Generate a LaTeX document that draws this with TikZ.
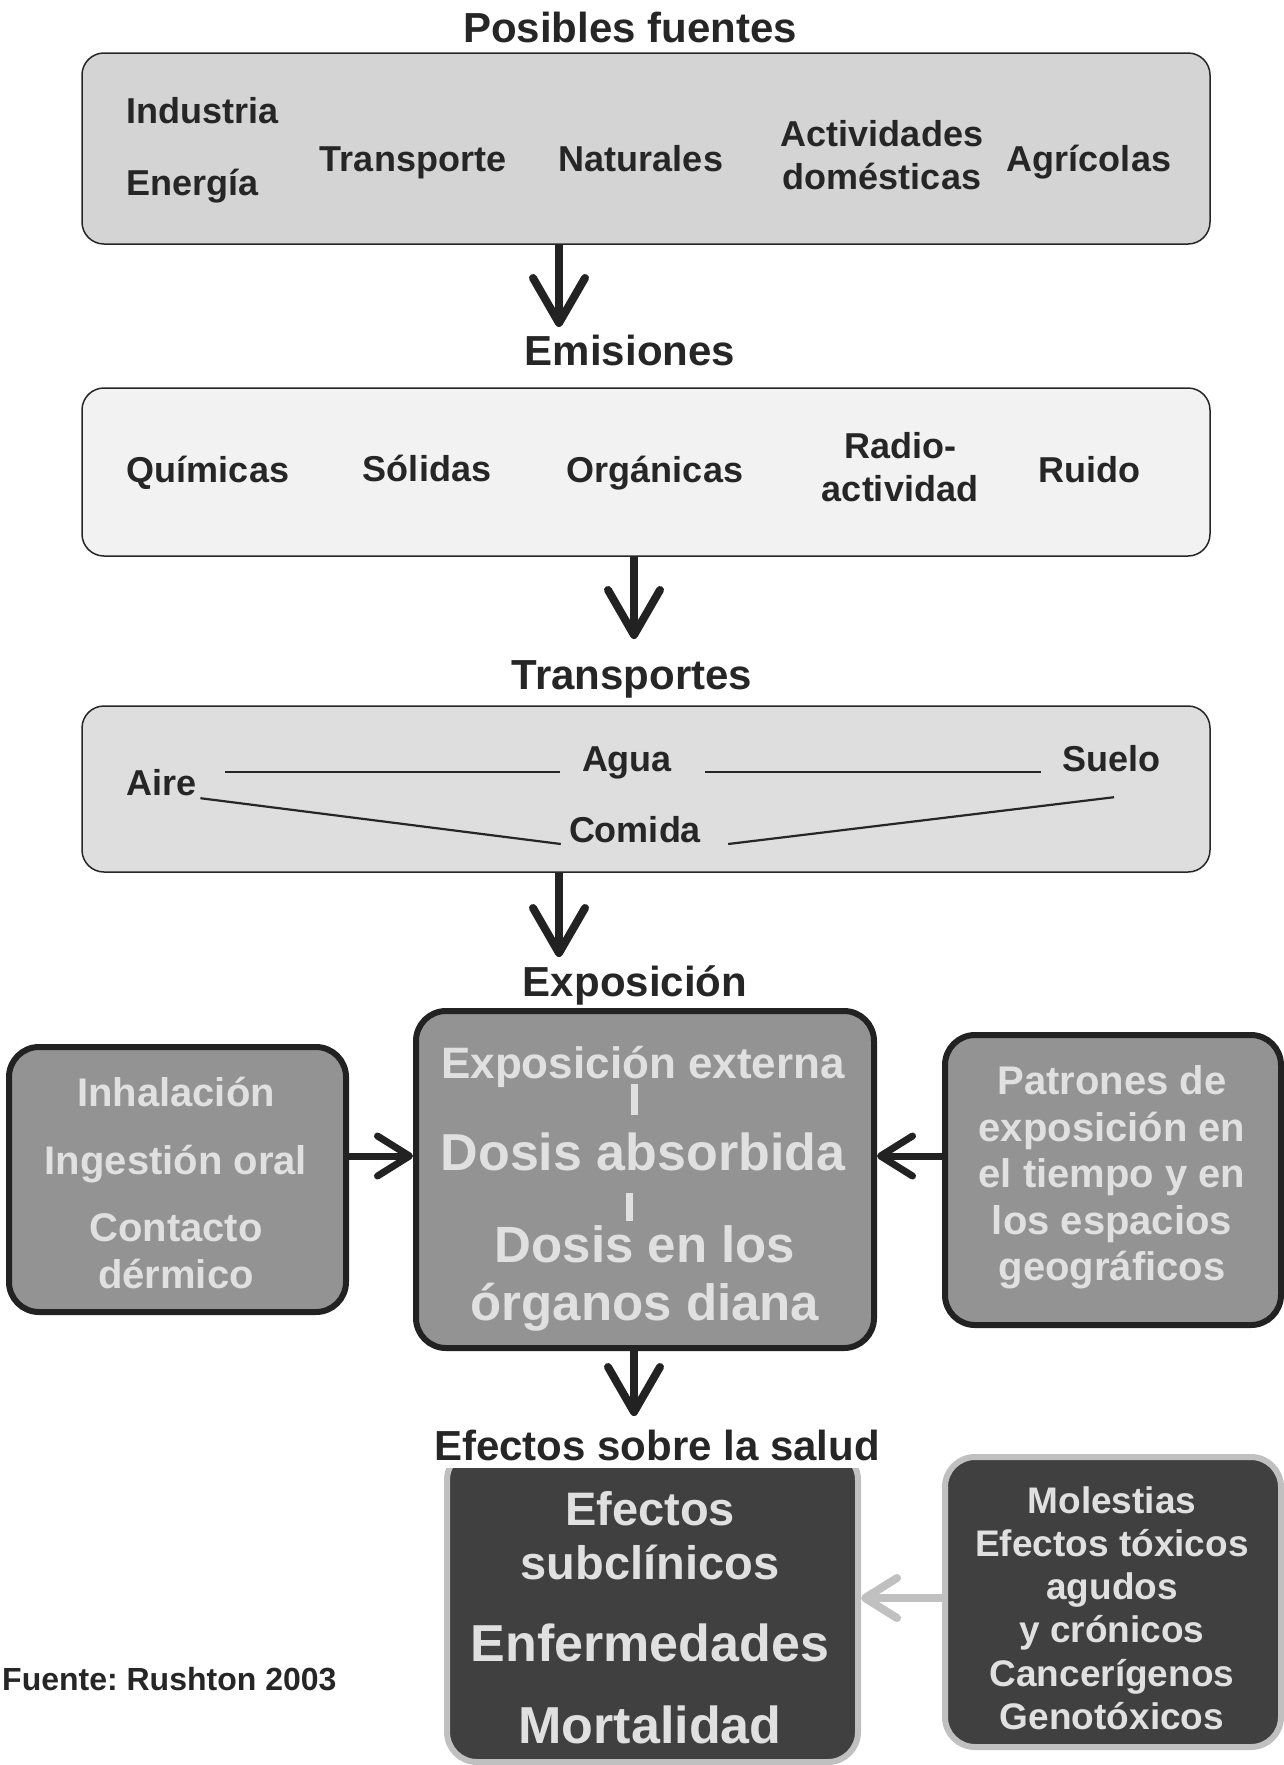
\documentclass[tikz,border=0pt]{standalone}
\usepackage{fontspec}
\setmainfont{Liberation Sans}
\usetikzlibrary{arrows.meta}
\definecolor{tinta}{HTML}{262626}
\definecolor{gris1}{HTML}{D4D4D4}
\definecolor{gris2}{HTML}{F2F2F2}
\definecolor{gris3}{HTML}{DEDEDE}
\definecolor{medio}{HTML}{939393}
\definecolor{oscuro}{HTML}{222222}
\definecolor{fondo}{HTML}{404040}
\definecolor{claro}{HTML}{C0C0C0}
\definecolor{letra}{HTML}{E0E0E0}

\begin{document}
\begin{tikzpicture}[x=1pt,y=-1pt,
  titulo/.style={font=\fontsize{42}{48}\selectfont\bfseries,text=tinta,inner sep=0pt,text height=30pt,text depth=0pt},
  etiq/.style={font=\fontsize{36}{43}\selectfont\bfseries,text=tinta,inner sep=0pt,align=center},
  uno/.style={text height=26pt,text depth=0pt},
  claras/.style={text=letra,inner sep=0pt,align=center},
  caja/.style={draw=tinta,line width=1.5pt,rounded corners=22pt,inner sep=0pt,minimum width=1128pt},
  cajamedia/.style={draw=oscuro,fill=medio,line width=6pt,rounded corners=30pt,inner sep=0pt},
  textomedio/.style={claras,font=\fontsize{40}{46.5}\selectfont\bfseries},
  cajaoscura/.style={draw=claro,fill=fondo,line width=6pt,rounded corners=30pt,inner sep=0pt},
  flecha/.style={line width=8pt,draw=oscuro,-{Straight Barb[length=45pt,width=52pt,round]}},
  flechalado/.style={line width=7pt,draw=oscuro,-{Straight Barb[length=32pt,width=40pt,round]}},
  raya/.style={line width=2.2pt,draw=tinta},
  barra/.style={line width=7pt,draw=letra}]
\useasboundingbox (0,0) rectangle (1283,1765);

\node[titulo] (tFuentes) at (630,27) {Posibles fuentes};
\node[caja,fill=gris1,minimum height=191pt] (fuentes) at (646,148.5) {};
\node[etiq,uno,anchor=west] (industria) at (126,110) {Industria};
\node[etiq,uno,anchor=west] (energia) at (126,182) {Energía};
\node[etiq,uno] (transporte) at (413,158) {Transporte};
\node[etiq,uno] (naturales) at (641,158) {Naturales};
\node[etiq] (domesticas) at (882,155) {Actividades\\domésticas};
\node[etiq,uno] (agricolas) at (1089,158) {Agrícolas};

\node[titulo] (tEmisiones) at (630,350) {Emisiones};
\node[caja,fill=gris2,minimum height=168pt] (emisiones) at (646,472) {};
\node[etiq,uno] (quimicas) at (208,469) {Químicas};
\node[etiq,uno] (solidas) at (427,468) {Sólidas};
\node[etiq,uno] (organicas) at (655,469) {Orgánicas};
\node[etiq] (radio) at (900,467) {Radio-\\actividad};
\node[etiq,uno] (ruido) at (1089,469) {Ruido};

\node[titulo] (tTransportes) at (632,674) {Transportes};
\node[caja,fill=gris3,minimum height=166pt] (medios) at (646,789) {};
\node[etiq,uno,anchor=west] (aire) at (126,782) {Aire};
\node[etiq,uno] (agua) at (627,758) {Agua};
\node[etiq,uno] (suelo) at (1111,758) {Suelo};
\node[etiq,uno] (comida) at (635,829) {Comida};
\draw[raya] ([shift={(29,-10)}]aire.east) -- ([shift={(-22,14)}]agua.west);
\draw[raya] ([shift={(33,14)}]agua.east) -- ([shift={(-21,14)}]suelo.west);
\draw[raya] ([shift={(4,3)}]aire.south east) -- ([shift={(-8,15)}]comida.west);
\draw[raya] ([shift={(27,15)}]comida.east) -- ([shift={(3,26)}]suelo.south);

\node[titulo] (tExposicion) at (635,981) {Exposición};
\node[cajamedia,minimum width=458pt,minimum height=337pt] (dosis) at (645,1179.5) {};
\node[claras,font=\fontsize{44}{50}\selectfont\bfseries,text height=32pt,text depth=0pt] (externa) at (643,1062) {Exposición externa};
\node[claras,font=\fontsize{52}{58}\selectfont\bfseries,text height=37pt,text depth=0pt] (absorbida) at (643,1152) {Dosis absorbida};
\node[claras,font=\fontsize{51}{58}\selectfont\bfseries,text height=37pt,text depth=0pt] (dosisen) at (645,1244) {Dosis en los};
\node[claras,font=\fontsize{51}{58}\selectfont\bfseries,text height=37pt,text depth=0pt] (organos) at (645,1302) {órganos diana};
\draw[barra] ([shift={(-9,6)}]externa.south) -- ++(0,31);
\draw[barra] ([shift={(-14,22)}]absorbida.south) -- ++(0,28);

\node[cajamedia,minimum width=337pt,minimum height=265pt] (vias) at (177.5,1179.5) {};
\node[textomedio] (viastexto) at (176,1183) {Inhalación\\[21pt]Ingestión oral\\[21pt]Contacto\\dérmico};
\node[cajamedia,minimum width=336pt,minimum height=290pt] (patrones) at (1113,1180) {};
\node[textomedio] (patronestexto) at (1112,1177.5) {Patrones de\\exposición en\\el tiempo y en\\los espacios\\geográficos};

\coordinate (fila) at (0,1156);
\draw[flechalado] (vias.east |- fila) -- (dosis.west |- fila);
\draw[flechalado] (patrones.west |- fila) -- (dosis.east |- fila);

\coordinate (p1) at (559,327);
\coordinate (p2) at (634,639);
\coordinate (p3) at (559,957);
\coordinate (p4) at (634,1416);
\draw[flecha] (fuentes.south -| p1) -- (p1);
\draw[flecha] (emisiones.south -| p2) -- (p2);
\draw[flecha] (medios.south -| p3) -- (p3);
\draw[flecha] (dosis.south -| p4) -- (p4);

\node[cajaoscura,minimum width=411pt,minimum height=312pt] (salud) at (652.5,1606) {};
\node[claras,font=\fontsize{47}{54}\selectfont\bfseries] (subclinicos) at (650,1535.5) {Efectos\\subclínicos};
\node[claras,font=\fontsize{52}{58}\selectfont\bfseries,text height=37pt,text depth=0pt] (enfermedades) at (650,1643) {Enfermedades};
\node[claras,font=\fontsize{52}{58}\selectfont\bfseries,text height=37pt,text depth=0pt] (mortalidad) at (650,1725) {Mortalidad};
\node[titulo,fill=white,inner sep=8pt] (tSalud) at (657,1445) {Efectos sobre la salud};

\node[cajaoscura,minimum width=336pt,minimum height=290pt] (danos) at (1113,1602) {};
\node[claras,font=\fontsize{37}{43.2}\selectfont\bfseries] (lista) at (1112,1608) {Molestias\\Efectos tóxicos\\agudos\\y crónicos\\Cancerígenos\\Genotóxicos};
\coordinate (fila2) at (0,1598);
\draw[line width=8pt,draw=claro,-{Straight Barb[length=32pt,width=40pt,round]}] (danos.west |- fila2) -- (salud.east |- fila2);

\node[anchor=west,font=\fontsize{32}{38}\selectfont\bfseries,text=tinta,inner sep=0pt,text height=23pt,text depth=0pt] (fuente) at (2,1679) {Fuente:\ Rushton 2003};
\end{tikzpicture}
\end{document}
